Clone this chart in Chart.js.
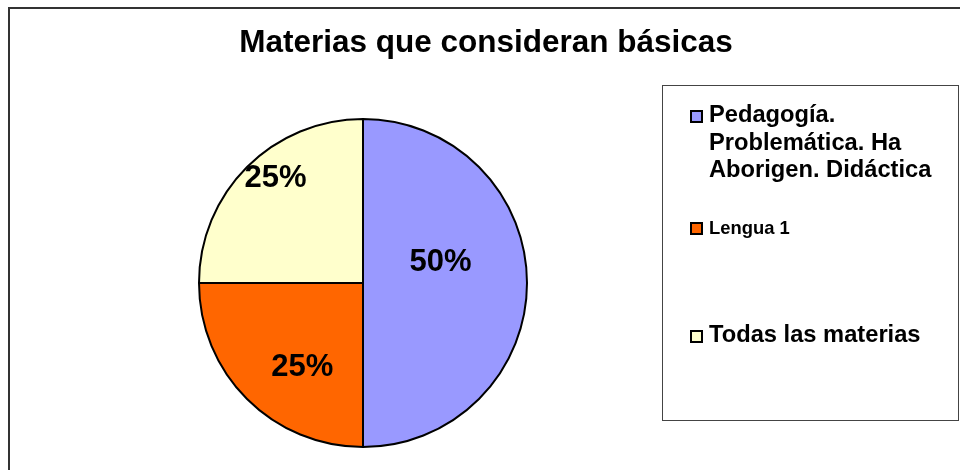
<!DOCTYPE html>
<html>
<head>
<meta charset="utf-8">
<script src="https://cdn.jsdelivr.net/npm/chart.js@4/dist/chart.umd.min.js"></script>
<style>
  body { margin: 0; background: #fff; }
  canvas { display: block; }
</style>
</head>
<body>
<canvas id="grafico" width="960" height="470"></canvas>
<script>
const titulo = "Materias que consideran básicas"
const materias = [
    ["Pedagogía.", "Problemática. Ha", "Aborigen. Didáctica"],
    ["Lengua 1"],
    ["Todas las materias"]
]
const porcentajes = [50, 25, 25]
const colores = ["#9999FF", "#FF6600", "#FFFFCC"]

const fuente = '"Liberation Sans", Arial, sans-serif'

// donde va cada etiqueta de porcentaje, relativo al centro (en radios)
const posEtiquetas = [[0.473, -0.13], [-0.37, 0.506], [-0.533, -0.642]]

// leyenda: y de cada cuadrito y tamaño de letra
const leyendaY = [110, 222, 330]
const leyendaFont = [23.7, 18.4, 23.7]

const marcoYTitulo = {
    id: 'marcoYTitulo',
    afterDraw(chart) {
        const ctx = chart.ctx
        ctx.save()
        // marco exterior
        ctx.strokeStyle = '#333'
        ctx.lineWidth = 2
        ctx.strokeRect(9, 8, 1000, 1000)
        // titulo
        ctx.fillStyle = '#000'
        ctx.font = 'bold 31.5px ' + fuente
        ctx.textAlign = 'center'
        ctx.textBaseline = 'alphabetic'
        ctx.fillText(titulo, 486, 52)
        ctx.restore()
    }
}

const etiquetas = {
    id: 'etiquetas',
    afterDatasetsDraw(chart) {
        const ctx = chart.ctx
        const meta = chart.getDatasetMeta(0)
        const total = porcentajes.reduce((a, b) => a + b, 0)
        ctx.save()
        ctx.fillStyle = '#000'
        ctx.font = 'bold 31px ' + fuente
        ctx.textAlign = 'center'
        ctx.textBaseline = 'middle'
        meta.data.forEach((arco, i) => {
            const r = arco.outerRadius
            const x = arco.x + posEtiquetas[i][0] * r
            const y = arco.y + posEtiquetas[i][1] * r
            ctx.fillText(Math.round(porcentajes[i] / total * 100) + '%', x, y + 1)
        })
        ctx.restore()
    }
}

const leyenda = {
    id: 'leyenda',
    afterDraw(chart) {
        const ctx = chart.ctx
        ctx.save()
        ctx.strokeStyle = '#444'
        ctx.lineWidth = 1
        ctx.strokeRect(662.5, 85.5, 296, 335)
        const labels = chart.data.labels
        labels.forEach((lineas, i) => {
            const y = leyendaY[i]
            ctx.fillStyle = colores[i]
            ctx.fillRect(690, y, 13, 13)
            ctx.strokeStyle = '#000'
            ctx.lineWidth = 2
            ctx.strokeRect(691, y + 1, 11, 11)
            ctx.fillStyle = '#000'
            ctx.font = 'bold ' + leyendaFont[i] + 'px ' + fuente
            ctx.textAlign = 'left'
            ctx.textBaseline = 'alphabetic'
            lineas.forEach((t, j) => {
                ctx.fillText(t, 709, y + 12 + j * 27.5)
            })
        })
        ctx.restore()
    }
}

new Chart(document.getElementById('grafico'), {
    type: 'pie',
    data: {
        labels: materias,
        datasets: [{
            data: porcentajes,
            backgroundColor: colores,
            borderColor: '#000',
            borderWidth: 2
        }]
    },
    options: {
        responsive: false,
        animation: false,
        devicePixelRatio: 1,
        layout: { padding: { left: 198, right: 432, top: 118, bottom: 22 } },
        plugins: {
            legend: { display: false },
            title: { display: false },
            tooltip: { enabled: false }
        }
    },
    plugins: [marcoYTitulo, etiquetas, leyenda]
})
</script>
</body>
</html>
